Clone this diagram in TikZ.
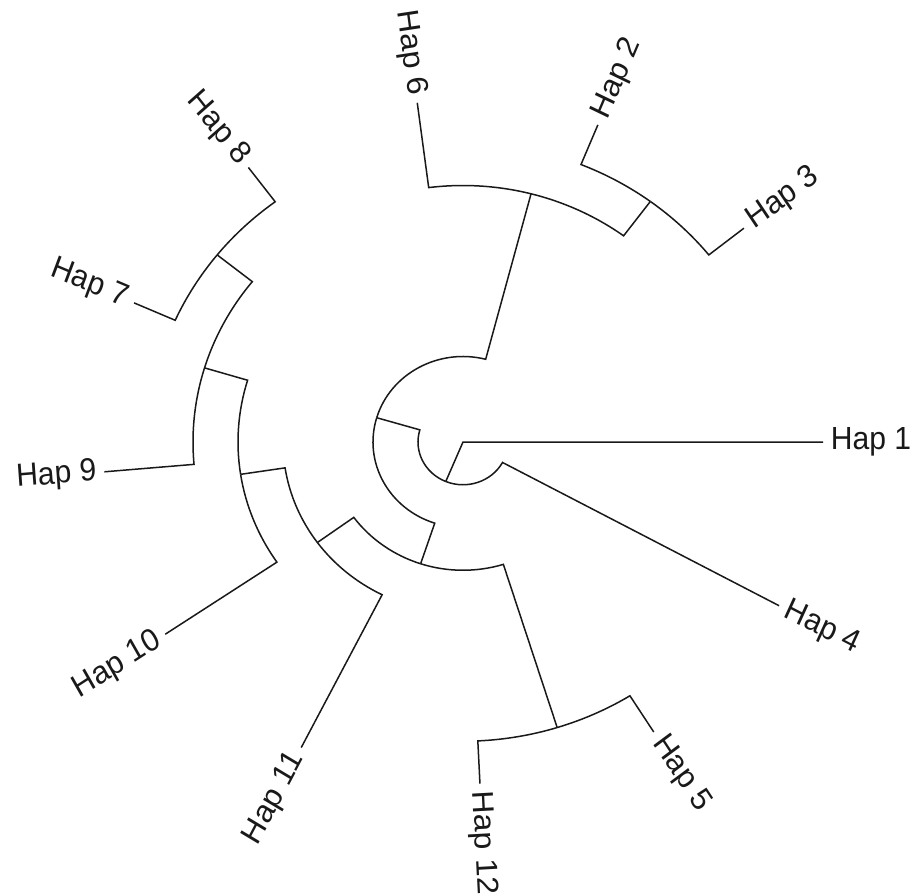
\documentclass[tikz,border=0pt]{standalone}
\usepackage{fontspec}
\setmainfont{Liberation Sans}
\newcommand\branch[4]{\draw[br] (#1) -- (#2:#3) arc[start angle=#2, end angle=#4, radius=#3];}
\newcommand\haplabel[3]{%
  \pgfmathsetmacro\phiang{atan2(171*0.94*sin(#2),180*cos(#2))}%
  \pgfmathtruncatemacro\sideflag{cos(#2)>0}%
  \ifnum\sideflag=1
    \node[lab,anchor=west,xscale=0.94,rotate=\phiang,transform shape] (#1) at (#2:1.013) {#3};%
  \else
    \pgfmathsetmacro\phiang{\phiang+180}%
    \node[lab,anchor=east,xscale=0.94,rotate=\phiang,transform shape] (#1) at (#2:1.013) {#3};%
  \fi}
\begin{document}
\begin{tikzpicture}[x=180pt,y=171pt,
  br/.style={draw=black!90,line width=0.75pt,line join=miter},
  lab/.style={font=\fontsize{16pt}{19pt}\selectfont,inner sep=1.5pt,text=black!90}]
\useasboundingbox (-231.5pt,-226.5pt) rectangle (228.5pt,221pt);
% internal nodes
\coordinate (root) at (0,0);
\coordinate (n1) at (247.5:0.125);
\coordinate (n2) at (163.5:0.25);
\coordinate (n3) at (75.4:0.75);
\coordinate (n4) at (53.5:0.875);
\coordinate (n5) at (251.7:0.375);
\coordinate (n6) at (216:0.5);
\coordinate (n7) at (287.4:0.875);
\coordinate (n8) at (188.7:0.625);
\coordinate (n9) at (163.2:0.75);
\coordinate (n10) at (141.3:0.875);
% tips
\coordinate (t1) at (0:1);
\coordinate (t2) at (68:1);
\coordinate (t3) at (38.7:1);
\coordinate (t4) at (331.4:1);
\coordinate (t5) at (302:1);
\coordinate (t6) at (97.3:1);
\coordinate (t7) at (156:1);
\coordinate (t8) at (126.6:1);
\coordinate (t9) at (185:1);
\coordinate (t10) at (214.2:1);
\coordinate (t11) at (243.3:1);
\coordinate (t12) at (272.7:1);
% branches
\draw[br] (t1) -- (root) -- (n1);
\branch{t4}{331.4}{0.125}{247.5}
\branch{n2}{163.5}{0.125}{247.5}
\branch{n3}{75.4}{0.25}{163.5}
\branch{n5}{251.7}{0.25}{163.5}
\branch{n4}{53.5}{0.75}{75.4}
\branch{t6}{97.3}{0.75}{75.4}
\branch{t3}{38.7}{0.875}{53.5}
\branch{t2}{68}{0.875}{53.5}
\branch{n6}{216}{0.375}{251.7}
\branch{n7}{287.4}{0.375}{251.7}
\branch{t12}{272.7}{0.875}{287.4}
\branch{t5}{302}{0.875}{287.4}
\branch{n8}{188.7}{0.5}{216}
\branch{t11}{243.3}{0.5}{216}
\branch{n9}{163.2}{0.625}{188.7}
\branch{t10}{214.2}{0.625}{188.7}
\branch{n10}{141.3}{0.75}{163.2}
\branch{t9}{185}{0.75}{163.2}
\branch{t8}{126.6}{0.875}{141.3}
\branch{t7}{156}{0.875}{141.3}
% labels
\haplabel{l1}{0}{Hap 1}
\haplabel{l2}{68}{Hap 2}
\haplabel{l3}{38.7}{Hap 3}
\haplabel{l4}{331.4}{Hap 4}
\haplabel{l5}{302}{Hap 5}
\haplabel{l6}{97.3}{Hap 6}
\haplabel{l7}{156}{Hap 7}
\haplabel{l8}{126.6}{Hap 8}
\haplabel{l9}{185}{Hap 9}
\haplabel{l10}{214.2}{Hap 10}
\haplabel{l11}{243.3}{Hap 11}
\haplabel{l12}{272.7}{Hap 12}
\end{tikzpicture}
\end{document}
